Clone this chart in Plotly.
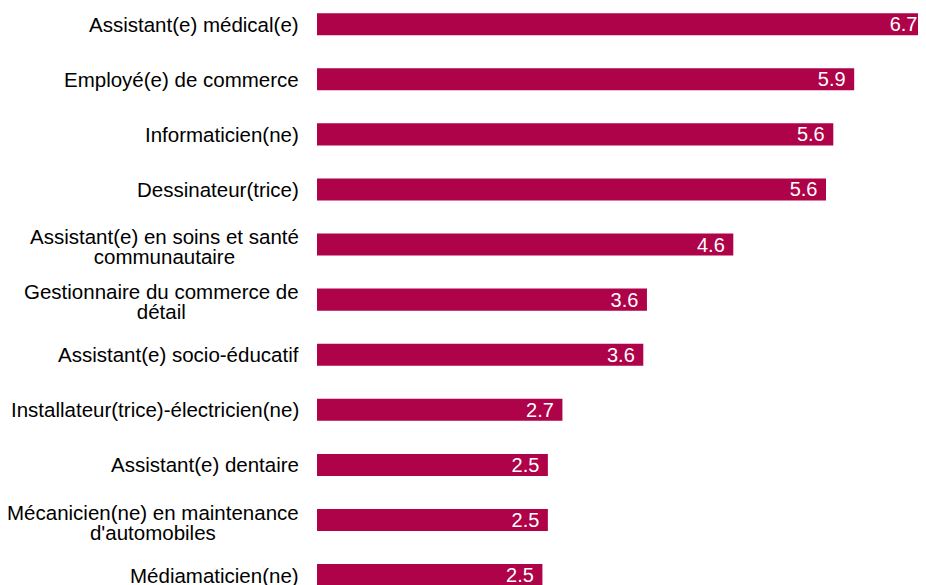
import plotly.graph_objects as go

categories = [
    "Assistant(e) médical(e)",
    "Employé(e) de commerce",
    "Informaticien(ne)",
    "Dessinateur(trice)",
    "Assistant(e) en soins et santé\ncommunautaire",
    "Gestionnaire du commerce de\ndétail",
    "Assistant(e) socio-éducatif",
    "Installateur(trice)-électricien(ne)",
    "Assistant(e) dentaire",
    "Mécanicien(ne) en maintenance\nd'automobiles",
    "Médiamaticien(ne)",
]
values = [6.7, 5.91, 5.68, 5.6, 4.58, 3.63, 3.59, 2.7, 2.54, 2.54, 2.48]
value_labels = ["6.7", "5.9", "5.6", "5.6", "4.6", "3.6", "3.6", "2.7", "2.5", "2.5", "2.5"]

BAR_COLOR = "#AE0249"
FONT = "Liberation Sans, Arial, sans-serif"
FS_LABEL = 20.5
FS_VALUE = 20

ids = [c.replace("\n", " ") for c in categories]

fig = go.Figure()
fig.add_trace(go.Bar(
    x=values,
    y=ids,
    orientation="h",
    width=0.4,
    marker=dict(color=BAR_COLOR, line=dict(width=0)),
    text=[t + "\u00a0" for t in value_labels],
    texttemplate="%{text}",
    textposition="inside",
    insidetextanchor="end",
    constraintext="none",
    insidetextfont=dict(family=FONT, size=FS_VALUE, color="white"),
    textangle=0,
    hoverinfo="skip",
    cliponaxis=True,
))

annotations = []
for cat, cid in zip(categories, ids):
    lines = cat.split("\n")
    if len(lines) == 1:
        txt = cat
        size = FS_LABEL
        yshift = 0
    else:
        txt = "<br>".join(f'<span style="font-size:{FS_LABEL}px">{ln}</span>' for ln in lines)
        size = 19.5 / 1.3
        yshift = -2
    annotations.append(dict(
        x=0, xref="paper", y=cid, yref="y",
        text=txt, showarrow=False,
        xanchor="right", yanchor="middle", align="center",
        xshift=-16, yshift=yshift,
        font=dict(family=FONT, size=size, color="#000000"),
    ))

fig.update_layout(
    width=918, height=577,
    margin=dict(l=309, r=0, t=0, b=0, pad=0),
    paper_bgcolor="white", plot_bgcolor="white",
    showlegend=False,
    annotations=annotations,
    xaxis=dict(range=[0, 6.7], visible=False, showgrid=False, zeroline=False, fixedrange=True),
    yaxis=dict(
        type="category",
        categoryorder="array", categoryarray=ids,
        range=[10.18, -0.294],
        showticklabels=False, showgrid=False, zeroline=False, showline=False, ticks="",
    ),
    font=dict(family=FONT),
)

fig.write_html("out.html")
